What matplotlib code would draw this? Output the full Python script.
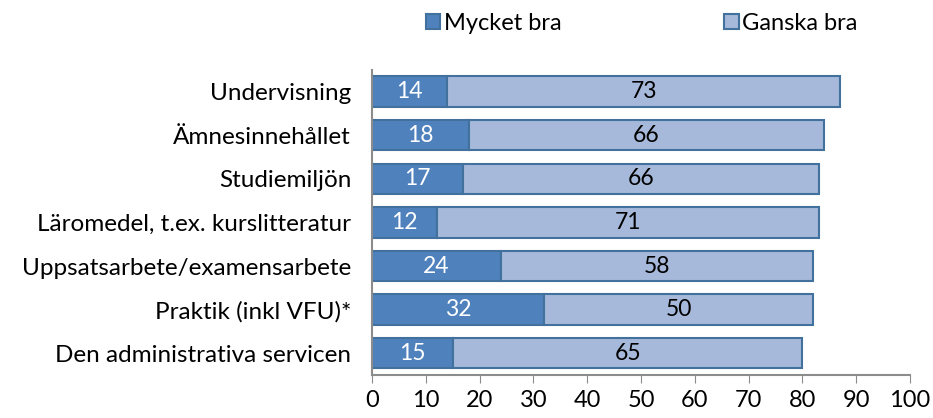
import numpy as np
import matplotlib
matplotlib.use('Agg')
from matplotlib import pyplot as plt

# data
categories = ['Undervisning', 'Ämnesinnehållet', 'Studiemiljön',
              'Läromedel, t.ex. kurslitteratur', 'Uppsatsarbete/examensarbete',
              'Praktik (inkl VFU)*', 'Den administrativa servicen']
mycket_bra = [14, 18, 17, 12, 24, 32, 15]
ganska_bra = [73, 66, 66, 71, 58, 50, 65]
xticks = list(range(0, 101, 10))

plt.rcParams['font.family'] = ['Lato', 'DejaVu Sans']

dark = '#4F81BD'
light = '#A6B9DA'
edge = '#41719C'

fig = plt.figure(figsize=(9.33, 4.18), dpi=100)
ax = fig.add_axes([0.3987, 0.1029, 0.5767, 0.7300])

y = np.arange(len(categories))[::-1]
b1 = ax.barh(y, mycket_bra, height=0.7, color=dark, edgecolor=edge,
             lw=1.5, label='Mycket bra')
b2 = ax.barh(y, ganska_bra, left=mycket_bra, height=0.7, color=light,
             edgecolor=edge, lw=1.5, label='Ganska bra')

for yi, a, b in zip(y, mycket_bra, ganska_bra):
    ax.text(a / 2, yi, str(a), ha='center', va='center', color='white',
            fontsize=16.5)
    ax.text(a + b / 2, yi, str(b), ha='center', va='center', color='black',
            fontsize=16.5)

ax.set_ylim(-0.5, len(categories) - 0.5)
ax.set_xlim(0, 100)
ax.set_yticks(y)
ax.set_yticklabels(categories, fontsize=17.5)
ax.set_xticks(xticks)
ax.tick_params(axis='x', labelsize=17, length=6, color='#8c8c8c',
               direction='out', pad=5)
ax.tick_params(axis='y', length=0, pad=15)

for side in ['top', 'right']:
    ax.spines[side].set_visible(False)
for side in ['left', 'bottom']:
    ax.spines[side].set_color('#8c8c8c')
    ax.spines[side].set_linewidth(1.5)

fig.legend(handles=[b1, b2], loc='upper center', bbox_to_anchor=(0.688, 1.02),
           ncol=2, frameon=False, fontsize=17, handlelength=0.6,
           handleheight=0.6, handletextpad=0.15, columnspacing=6.9)

plt.savefig('out.png', dpi=100)
